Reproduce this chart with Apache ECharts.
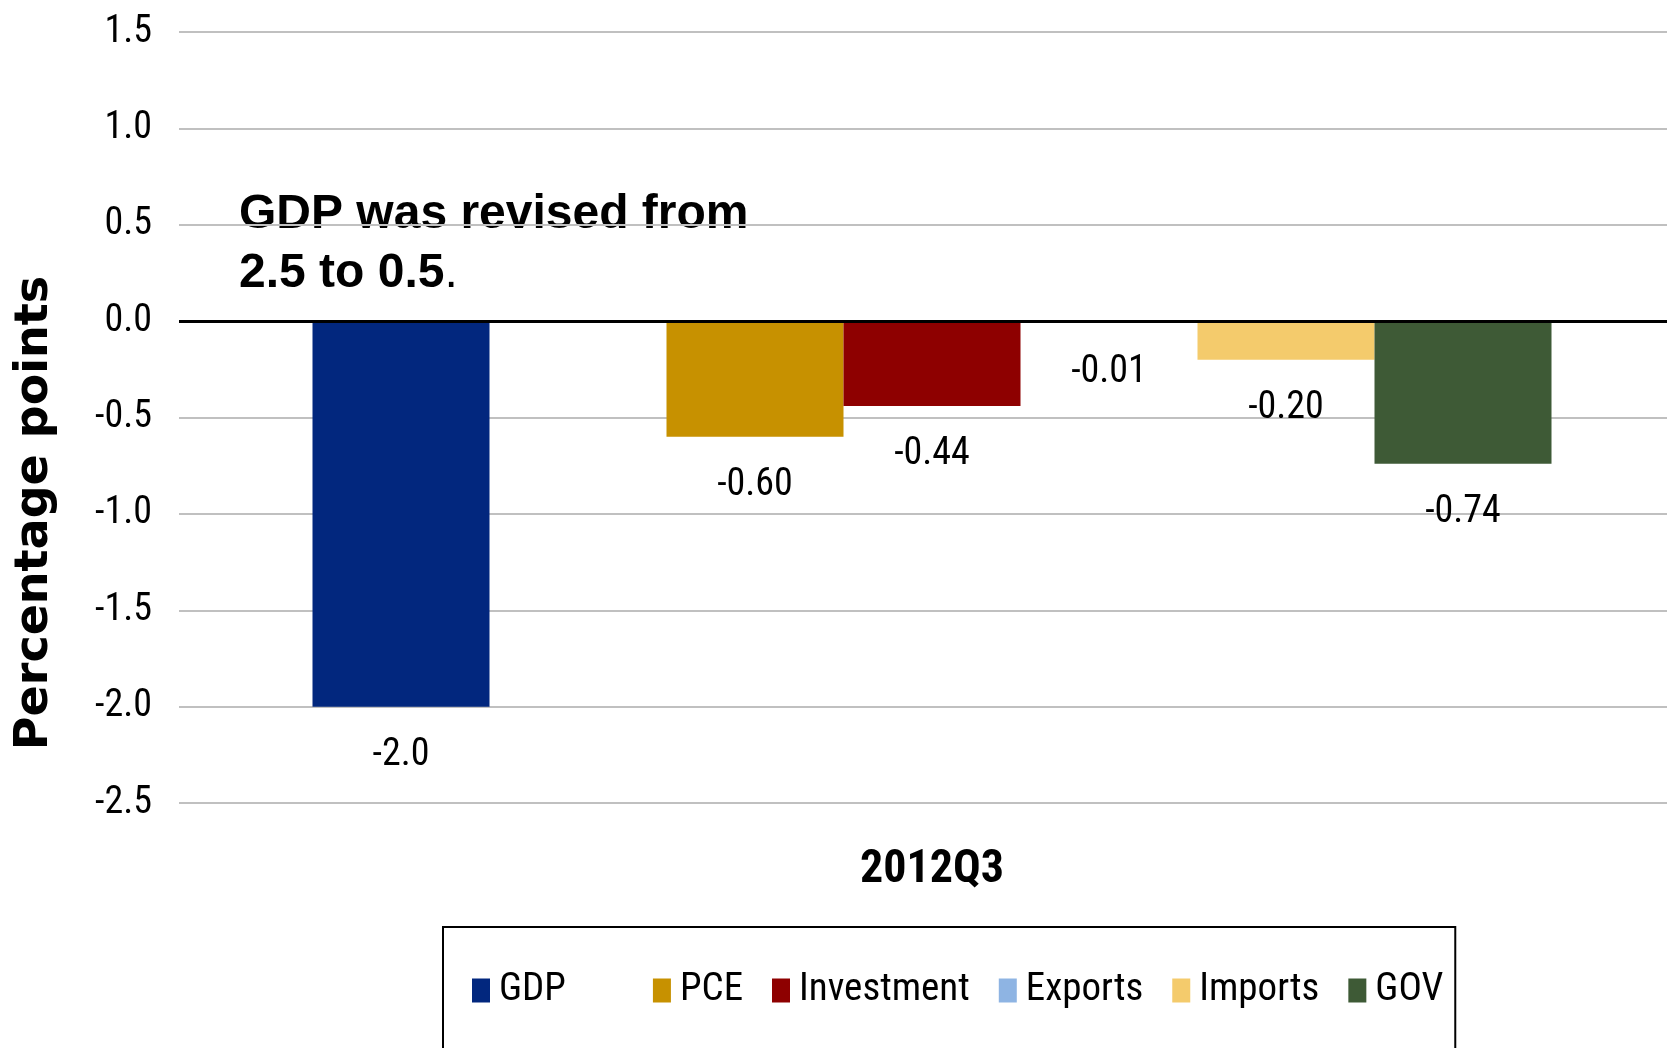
<!DOCTYPE html>
<html>
<head>
<meta charset="utf-8">
<title>Revisions to GDP contributions, 2012Q3</title>
<script src="https://cdn.jsdelivr.net/npm/echarts@6/dist/echarts.min.js"></script>
<style>
  html, body { margin: 0; padding: 0; background: #ffffff; }
  #chart { width: 1667px; height: 1048px; }
</style>
</head>
<body>
<div id="chart"></div>
<script>
// Revision to GDP growth and its components, in percentage points
const categories = ['2012Q3'];
const seriesNames = ['GDP', 'gap', 'PCE', 'Investment', 'Exports', 'Imports', 'GOV'];
const gdpValues = [-2.0];
const gapValues = ['-'];
const pceValues = [-0.60];
const investmentValues = [-0.44];
const exportsValues = [-0.01];
const importsValues = [-0.20];
const govValues = [-0.74];
const yTickValues = [-2.5, -2.0, -1.5, -1.0, -0.5, 0.0, 0.5, 1.0, 1.5];
const legendNames = ['GDP', 'PCE', 'Investment', 'Exports', 'Imports', 'GOV'];

const colors = {
  GDP: '#02277E',
  gap: 'rgba(0,0,0,0)',
  PCE: '#C79100',
  Investment: '#8E0000',
  Exports: '#8EB4E3',
  Imports: '#F4CB6C',
  GOV: '#3E5A36'
};
const decimals = { GDP: 1, PCE: 2, Investment: 2, Exports: 2, Imports: 2, GOV: 2 };
const valuesByName = {
  GDP: gdpValues, gap: gapValues, PCE: pceValues, Investment: investmentValues,
  Exports: exportsValues, Imports: importsValues, GOV: govValues
};

const narrow = '"Roboto Condensed", "Liberation Sans Narrow", "Arial Narrow", sans-serif';
const wide = '"Liberation Sans", Arial, sans-serif';

const chart = echarts.init(document.getElementById('chart'), null, { renderer: 'canvas' });

const series = seriesNames.map(function (name, i) {
  const s = {
    name: name,
    type: 'bar',
    data: valuesByName[name],
    barWidth: 177,
    barGap: '0%',
    itemStyle: { color: colors[name] },
    label: {
      show: name !== 'gap',
      position: 'bottom',
      distance: 30,
      color: '#000000',
      fontFamily: narrow,
      fontSize: 38,
      formatter: function (p) { return Number(p.value).toFixed(decimals[name]); }
    },
    emphasis: { disabled: true }
  };
  if (i === 0) {
    // heavy zero line across the plot
    s.markLine = {
      silent: true,
      symbol: ['none', 'none'],
      label: { show: false },
      lineStyle: { color: '#000000', width: 3, type: 'solid' },
      data: [{ yAxis: 0 }]
    };
  }
  return s;
});

const option = {
  backgroundColor: '#ffffff',
  animation: false,
  grid: {
    left: 179, top: 32, right: -18, height: 771,
    containLabel: false,
    outerBoundsMode: 'none'
  },
  xAxis: {
    type: 'category',
    data: categories,
    axisLine: { show: false, onZero: false },
    axisTick: { show: false },
    splitLine: { show: false },
    axisLabel: {
      margin: 44,
      color: '#000000',
      fontFamily: narrow,
      fontWeight: 'bold',
      fontSize: 46
    }
  },
  yAxis: {
    type: 'value',
    min: yTickValues[0],
    max: yTickValues[yTickValues.length - 1],
    interval: 0.5,
    axisLine: { show: false },
    axisTick: { show: false },
    splitLine: { show: true, lineStyle: { color: '#C0C0C0', width: 2 } },
    axisLabel: {
      margin: 27,
      color: '#000000',
      fontFamily: narrow,
      fontSize: 38,
      formatter: function (v) { return v.toFixed(1); }
    }
  },
  legend: {
    data: legendNames,
    left: 443,
    top: 927,
    orient: 'horizontal',
    icon: 'rect',
    itemWidth: 18,
    itemHeight: 24,
    itemGap: 29,
    padding: [44, 12, 80, 29],
    borderColor: '#000000',
    borderWidth: 2,
    backgroundColor: '#ffffff',
    selectedMode: false,
    formatter: function (name) {
      return name === 'GDP' ? '{wideGap|' + name + '}' : '{t|' + name + '}';
    },
    textStyle: {
      color: '#000000',
      fontFamily: narrow,
      fontSize: 39,
      rich: {
        t: { fontFamily: narrow, fontSize: 39, lineHeight: 48, color: '#000000', padding: [0, 0, 0, 4] },
        wideGap: { fontFamily: narrow, fontSize: 39, lineHeight: 48, color: '#000000', padding: [0, 58, 0, 4] }
      }
    }
  },
  graphic: [
    {
      type: 'text',
      left: 239,
      top: 191,
      silent: true,
      style: {
        text: '{b|GDP was revised from}\n{b|2.5 to 0.5}{n|.}',
        fill: '#000000',
        rich: {
          b: { fontFamily: wide, fontWeight: 'bold', fontSize: 48, lineHeight: 59, fill: '#000000' },
          n: { fontFamily: wide, fontWeight: 'normal', fontSize: 48, lineHeight: 59, fill: '#000000' }
        }
      }
    },
    {
      type: 'text',
      x: 35,
      y: 513,
      rotation: Math.PI / 2,
      silent: true,
      style: {
        text: 'Percentage points',
        fill: '#000000',
        fontFamily: '"DejaVu Sans", Verdana, sans-serif',
        fontWeight: 'bold',
        fontSize: 46,
        align: 'center',
        verticalAlign: 'middle'
      }
    }
  ],
  series: series
};

chart.setOption(option);
</script>
</body>
</html>
